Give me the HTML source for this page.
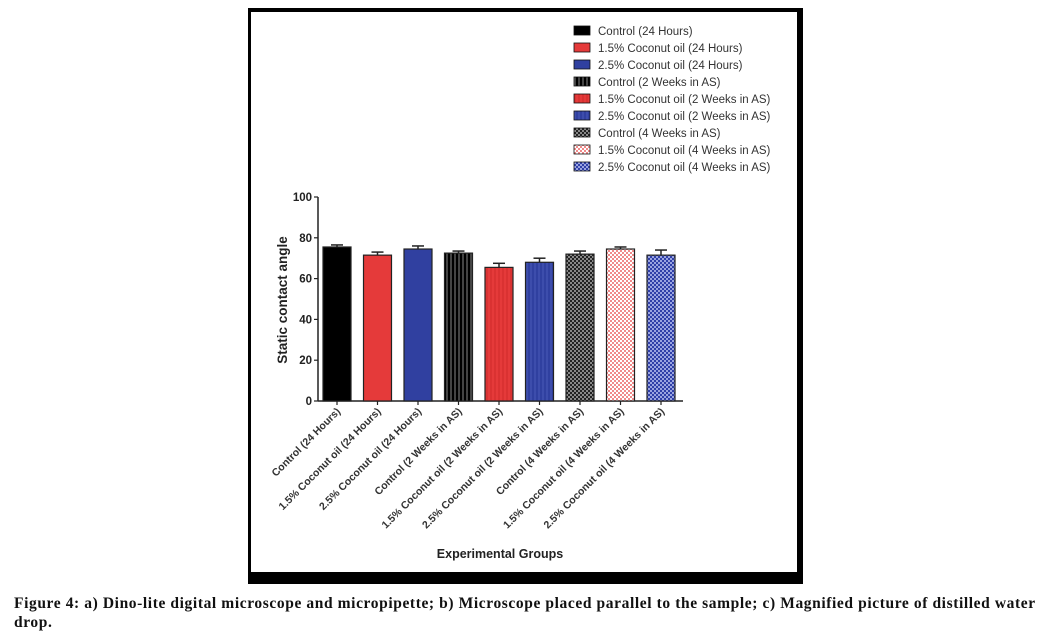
<!DOCTYPE html>
<html><head><meta charset="utf-8"><style>
body{margin:0;background:#fff;width:1064px;height:639px;overflow:hidden;position:relative;font-family:"Liberation Sans",sans-serif}
.cap{position:absolute;left:14px;top:594px;font-family:"Liberation Serif",serif;font-weight:bold;font-size:15.5px;line-height:19px;letter-spacing:0.6px;white-space:nowrap;color:#111}
</style></head><body>
<svg width="1064" height="639" style="position:absolute;left:0;top:0">
<defs>
<pattern id="pStripeK" width="4" height="4" patternUnits="userSpaceOnUse"><rect width="4" height="4" fill="#000"/><rect x="2.5" width="1" height="4" fill="#888"/></pattern>
<pattern id="pStripeR" width="4" height="4" patternUnits="userSpaceOnUse"><rect width="4" height="4" fill="#e53a3a"/><rect x="2.5" width="1" height="4" fill="#d02a2a"/></pattern>
<pattern id="pStripeB" width="4" height="4" patternUnits="userSpaceOnUse"><rect width="4" height="4" fill="#3040a0"/><rect x="2.5" width="1" height="4" fill="#4a5ab8"/></pattern>
<pattern id="pCheckK" width="4" height="4" patternUnits="userSpaceOnUse"><rect width="4" height="4" fill="#222"/><rect width="2" height="2" fill="#888"/><rect x="2" y="2" width="2" height="2" fill="#888"/></pattern>
<pattern id="pCheckR" width="4" height="4" patternUnits="userSpaceOnUse"><rect width="4" height="4" fill="#f08a8a"/><rect width="2" height="2" fill="#fff"/><rect x="2" y="2" width="2" height="2" fill="#fff"/></pattern>
<pattern id="pCheckB" width="4" height="4" patternUnits="userSpaceOnUse"><rect width="4" height="4" fill="#3040a8"/><rect width="2" height="2" fill="#9aa4e0"/><rect x="2" y="2" width="2" height="2" fill="#9aa4e0"/></pattern>
</defs>
<rect x="248" y="8" width="555" height="576" fill="#000"/>
<rect x="251" y="12" width="546" height="560" fill="#fff"/>
<g id="legend"></g>
<g id="plot"></g>
<text x="500" y="558" text-anchor="middle" font-weight="bold" font-size="12.5" fill="#222">Experimental Groups</text>
<text transform="translate(287,300) rotate(-90)" text-anchor="middle" font-weight="bold" font-size="13.5" fill="#222">Static contact angle</text>
</svg>
<div class="cap">Figure 4: a) Dino-lite digital microscope and micropipette; b) Microscope placed parallel to the sample; c) Magnified picture of distilled water<br>drop.</div>
<script>
const categories=["Control (24 Hours)","1.5% Coconut oil (24 Hours)","2.5% Coconut oil (24 Hours)","Control (2 Weeks in AS)","1.5% Coconut oil (2 Weeks in AS)","2.5% Coconut oil (2 Weeks in AS)","Control (4 Weeks in AS)","1.5% Coconut oil (4 Weeks in AS)","2.5% Coconut oil (4 Weeks in AS)"];
const values=[75.5,71.5,74.5,72.5,65.5,68,72,74.5,71.5];
const errors=[1,1.5,1.5,1,2,2,1.5,1,2.5];
const yTicks=[0,20,40,60,80,100];
const fills=["#000","#e53a3a","#3040a0","url(#pStripeK)","url(#pStripeR)","url(#pStripeB)","url(#pCheckK)","url(#pCheckR)","url(#pCheckB)"];
const NS="http://www.w3.org/2000/svg";
const y0=401,y100=197,x0=318,step=40.5,bw=28,firstX=323;
const ys=v=>y0-(v/100)*(y0-y100);
const xs=i=>firstX+i*step;
function mk(t,a,p){const e=document.createElementNS(NS,t);for(const k in a)e.setAttribute(k,a[k]);p.appendChild(e);return e;}
const plot=document.getElementById('plot');
const leg=document.getElementById('legend');
categories.forEach((c,i)=>{
 const y=31+i*17;
 const sw=mk('rect',{x:574,y:y-5,width:16,height:9,fill:fills[i],stroke:'#111','stroke-width':0.8},leg);
 
 
 const t=mk('text',{x:598,y:y+4,'font-size':11.5,fill:'#333'},leg);t.textContent=c;
 
 
});
const ya=mk('line',{x1:x0,y1:y100,x2:x0,y2:y0,stroke:'#222','stroke-width':1.5},plot);


const xa=mk('line',{x1:x0,y1:y0,x2:683,y2:y0,stroke:'#222','stroke-width':1.5},plot);


yTicks.forEach(v=>{
 mk('line',{x1:x0-4,y1:ys(v),x2:x0,y2:ys(v),stroke:'#222','stroke-width':1.2},plot);
 const t=mk('text',{x:x0-6,y:ys(v)+4,'text-anchor':'end','font-size':11.5,'font-weight':'bold',fill:'#222'},plot);t.textContent=v;
 
 
});
values.forEach((v,i)=>{
 const x=xs(i),cx=x+bw/2;
 const e=errors[i];
 mk('line',{x1:cx,y1:ys(v),x2:cx,y2:ys(v+e),stroke:'#222','stroke-width':1.5},plot);
 mk('line',{x1:cx-6,y1:ys(v+e),x2:cx+6,y2:ys(v+e),stroke:'#222','stroke-width':1.5},plot);
 const b=mk('rect',{x:x,y:ys(v),width:bw,height:y0-ys(v),fill:fills[i],stroke:'#222','stroke-width':1.2},plot);
 
 
 mk('line',{x1:cx,y1:y0,x2:cx,y2:y0+4,stroke:'#222','stroke-width':1.2},plot);
 const t=mk('text',{transform:`translate(${cx+4},${y0+11}) rotate(-45)`,'text-anchor':'end','font-size':10.5,'font-weight':'bold',fill:'#333'},plot);
 t.textContent=categories[i];
 
 
});
</script>
</body></html>
